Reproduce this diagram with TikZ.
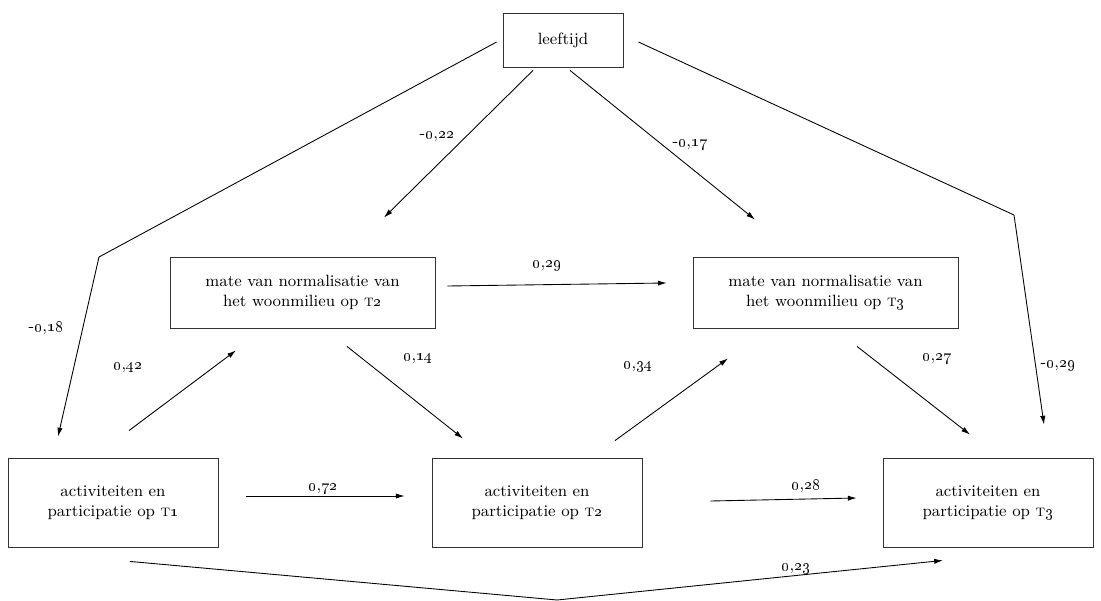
\documentclass[tikz,border=0pt]{standalone}
\usetikzlibrary{arrows.meta,calc}
\newcommand\fs{\fontsize{9.3}{11.3}\selectfont}
\newcommand\cf[2]{#1\oldstylenums{0},\oldstylenums{#2}}
\newcommand\tsc[1]{\textsc{t}\oldstylenums{#1}}
\begin{document}
\begin{tikzpicture}[x=0.02cm,y=-0.02cm,
  box/.style={draw=black!80,line width=0.5pt,align=center,inner sep=0pt,font=\fs},
  smallbox/.style={box,minimum width=2.4cm,minimum height=1.08cm},
  midbox/.style={box,minimum width=5.3cm,minimum height=1.42cm},
  actbox/.style={box,minimum width=4.2cm,minimum height=1.78cm},
  conn/.style={-{Latex[length=5pt,width=3pt]},line width=0.5pt},
  lab/.style={font=\fs,inner sep=0pt}]
\useasboundingbox (0,0) rectangle (1101,601);
\node[smallbox] (lt) at (563,40) {leeftijd};
\node[midbox] (m2) at (302.5,292.5) {mate van normalisatie van\\het woonmilieu op \tsc{2}};
\node[midbox] (m3) at (825.5,292.5) {mate van normalisatie van\\het woonmilieu op \tsc{3}};
\node[actbox] (a1) at (113,502.5) {activiteiten en\\participatie op \tsc{1}};
\node[actbox] (a2) at (537,502.5) {activiteiten en\\participatie op \tsc{2}};
\node[actbox] (a3) at (988,502.5) {activiteiten en\\participatie op \tsc{3}};
\coordinate (cl) at (99,257);
\coordinate (cr) at (1014,215);
\coordinate (cb) at (557,600);
\draw[conn] ($(lt.south)+(-30,3)$) -- ($(m2.north)+(81.5,-39)$);
\draw[conn] ($(lt.south)+(7,3)$) -- ($(m3.north)+(-70.5,-37)$);
\draw[conn] ($(lt.west)+(-6,2)$) -- (cl) -- ($(a1.north)+(-55,-21)$);
\draw[conn] ($(lt.east)+(15,2)$) -- (cr) -- ($(a3.north)+(56,-33)$);
\draw[conn] ($(m2.east)+(12,-6.5)$) -- ($(m3.west)+(-26,-9.5)$);
\draw[conn] ($(a1.north)+(16,-27)$) -- ($(m2.south)+(-66.5,22)$);
\draw[conn] ($(m2.south)+(44.5,18)$) -- ($(a2.north)+(-74,-19)$);
\draw[conn] ($(a2.north)+(78,-17)$) -- ($(m3.south)+(-97.5,30)$);
\draw[conn] ($(m3.south)+(31.5,18)$) -- ($(a3.north)+(-18,-23)$);
\draw[conn] ($(a1.east)+(28,-6.5)$) -- ($(a2.west)+(-27,-6.5)$);
\draw[conn] ($(a2.east)+(68,-1.5)$) -- ($(a3.west)+(-26,-4.5)$);
\draw[conn] ($(a1.south)+(17,14)$) -- (cb) -- ($(a3.south)+(-45,13)$);
\node[lab] (l1) at (437,137) {\cf{-}{22}};
\node[lab] (l2) at (690,145) {\cf{-}{17}};
\node[lab] (l3) at (46,328) {\cf{-}{18}};
\node[lab] (l4) at (1058,366) {\cf{-}{29}};
\node[lab] (l5) at (547,266) {\cf{}{29}};
\node[lab] (l6) at (128,368) {\cf{}{42}};
\node[lab] (l7) at (418,359) {\cf{}{14}};
\node[lab] (l8) at (638,367) {\cf{}{34}};
\node[lab] (l9) at (937,359) {\cf{}{27}};
\node[lab] (l10) at (323,489) {\cf{}{72}};
\node[lab] (l11) at (806,486) {\cf{}{28}};
\node[lab] (l12) at (796,569) {\cf{}{23}};
\end{tikzpicture}
\end{document}
